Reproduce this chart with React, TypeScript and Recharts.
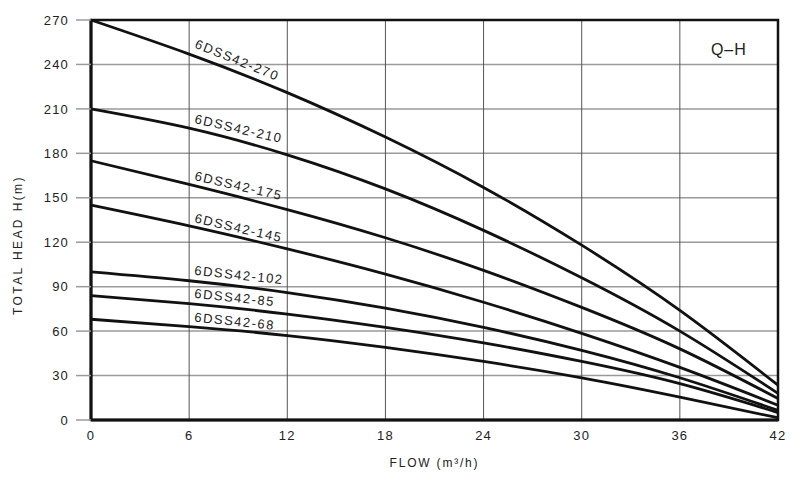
import React from "react";
import {
  LineChart,
  Line,
  XAxis,
  YAxis,
  CartesianGrid,
  ReferenceArea,
  ReferenceDot,
} from "recharts";

const flow = [0, 6, 12, 18, 24, 30, 36, 42];
const xTicks = [0, 6, 12, 18, 24, 30, 36, 42];
const yTicks = [0, 30, 60, 90, 120, 150, 180, 210, 240, 270];

const h270 = [270, 247, 221, 191, 157, 118, 74, 23.5];
const h210 = [210, 197, 179, 156, 128, 96, 60, 18];
const h175 = [175, 159, 142, 123, 101, 76, 48, 14.5];
const h145 = [145, 131, 115.5, 98.5, 79.5, 58.5, 35.5, 10];
const h102 = [100, 94, 86, 75.5, 62.5, 47, 28.5, 6.5];
const h85 = [84, 78.5, 71.5, 62.5, 52, 39.5, 24.5, 5];
const h68 = [68, 63, 57, 49, 39.5, 28.5, 15.5, 1.5];

const seriesKeys = ["m270", "m210", "m175", "m145", "m102", "m85", "m68"];
const seriesValues = [h270, h210, h175, h145, h102, h85, h68];
const seriesNames = [
  "6DSS42-270",
  "6DSS42-210",
  "6DSS42-175",
  "6DSS42-145",
  "6DSS42-102",
  "6DSS42-85",
  "6DSS42-68",
];
const labelX = [6.3, 6.3, 6.3, 6.3, 6.3, 6.3, 6.3];
const labelY = [251.5, 200.5, 162, 133.5, 98, 82.5, 66.5];
const labelAngle = [22, 13, 13, 13, 6, 6, 6];

const data = flow.map((q, i) => {
  const row: Record<string, number> = { q };
  seriesKeys.forEach((k, s) => {
    row[k] = seriesValues[s][i];
  });
  return row;
});

const FONT = "'Liberation Sans', Arial, Helvetica, sans-serif";
const TEXT = "#222";

const makeLabelShape = (text: string, angle: number) => (p: any) => (
  <text
    x={p.cx}
    y={p.cy}
    transform={`rotate(${angle} ${p.cx} ${p.cy})`}
    fontFamily={FONT}
    fontSize={13}
    letterSpacing={1.5}
    fill={TEXT}
  >
    {text}
  </text>
);

const qhShape = (p: any) => (
  <text
    x={p.cx}
    y={p.cy}
    fontFamily={FONT}
    fontSize={16}
    letterSpacing={1}
    fill={TEXT}
  >
    Q–H
  </text>
);

export default function App() {
  return (
    <div style={{ position: "absolute", left: 0, top: 0, background: "#fff" }}>
      <LineChart
        width={800}
        height={481}
        data={data}
        margin={{ top: 20, right: 22, left: 0, bottom: 0 }}
      >
        <CartesianGrid
          vertical={false}
          stroke="#9a9a9a"
          strokeWidth={1.5}
          horizontalValues={yTicks}
        />
        <CartesianGrid
          horizontal={false}
          stroke="#555"
          strokeWidth={1}
          verticalValues={xTicks}
        />
        <XAxis
          dataKey="q"
          type="number"
          domain={[0, 42]}
          ticks={xTicks}
          height={61}
          tickLine={false}
          tickSize={8}
          tickMargin={3}
          axisLine={{ stroke: "#111", strokeWidth: 3 }}
          tick={{ fill: TEXT, fontSize: 13, fontFamily: FONT, letterSpacing: 1.2 }}
          label={{
            content: (props: any) => {
              const vb = props.viewBox;
              return (
                <text
                  x={vb.x + vb.width / 2}
                  y={vb.y + 47}
                  textAnchor="middle"
                  fontFamily={FONT}
                  fontSize={12}
                  letterSpacing={1.8}
                  fill={TEXT}
                >
                  FLOW (m³/h)
                </text>
              );
            },
          }}
        />
        <YAxis
          type="number"
          domain={[0, 270]}
          ticks={yTicks}
          width={91}
          tickSize={15}
          tickMargin={7}
          tickLine={{ stroke: "#9a9a9a", strokeWidth: 1.5 }}
          axisLine={{ stroke: "#111", strokeWidth: 3 }}
          tick={{ fill: TEXT, fontSize: 13, fontFamily: FONT, letterSpacing: 1.2 }}
          label={{
            content: (props: any) => {
              const vb = props.viewBox;
              const cx = 22;
              const cy = vb.y + vb.height / 2 + 25;
              return (
                <text
                  x={cx}
                  y={cy}
                  transform={`rotate(-90 ${cx} ${cy})`}
                  textAnchor="middle"
                  fontFamily={FONT}
                  fontSize={12}
                  letterSpacing={2.4}
                  fill={TEXT}
                >
                  TOTAL HEAD H(m)
                </text>
              );
            },
          }}
        />
        <ReferenceArea
          x1={0}
          x2={42}
          y1={0}
          y2={270}
          fill="none"
          stroke="#111"
          strokeWidth={2.5}
          ifOverflow="visible"
        />
        {seriesKeys.map((k) => (
          <Line
            key={k}
            dataKey={k}
            type="natural"
            stroke="#111"
            strokeWidth={2.8}
            dot={false}
            activeDot={false}
            isAnimationActive={false}
          />
        ))}
        {seriesNames.map((name, i) => (
          <ReferenceDot
            key={name}
            x={labelX[i]}
            y={labelY[i]}
            r={0}
            ifOverflow="visible"
            shape={makeLabelShape(name, labelAngle[i])}
          />
        ))}
        <ReferenceDot
          x={37.9}
          y={246.4}
          r={0}
          ifOverflow="visible"
          shape={qhShape}
        />
      </LineChart>
    </div>
  );
}
